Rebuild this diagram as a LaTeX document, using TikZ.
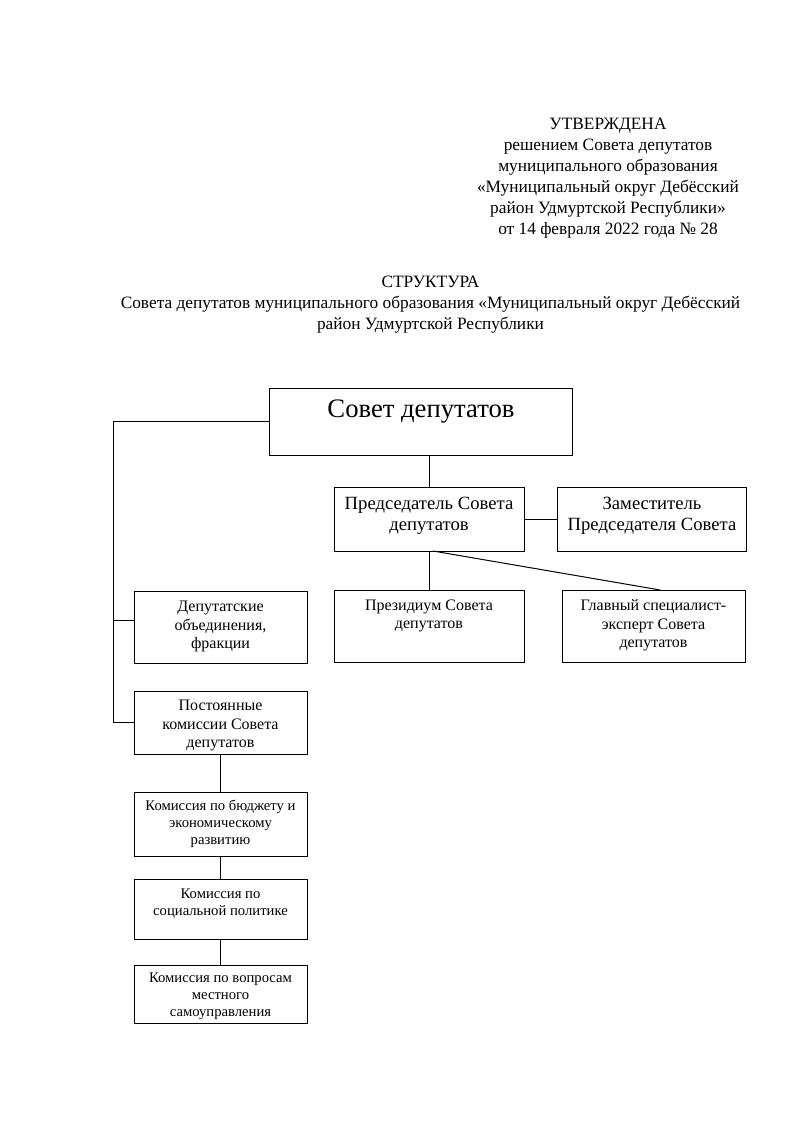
\documentclass[tikz,border=0pt]{standalone}
\usepackage{fontspec}
\setmainfont{Liberation Serif}
\usetikzlibrary{positioning,calc}

\begin{document}
\begin{tikzpicture}[x=0.75pt, y=-0.75pt,
    box/.style={draw, line width=0.75pt, inner sep=0pt, outer sep=0pt},
    boxsize/.style 2 args={minimum width=#1*0.75pt, minimum height=#2*0.75pt},
    bigtext/.style={align=center, inner sep=0pt, font=\fontsize{20}{23}\selectfont},
    headtext/.style={align=center, inner sep=0pt, font=\fontsize{13}{15.75}\selectfont},
    midtext/.style={align=center, inner sep=0pt, font=\fontsize{14}{15.75}\selectfont},
    smalltext/.style={align=center, inner sep=0pt, font=\fontsize{12}{14}\selectfont},
    comtext/.style={align=center, inner sep=0pt, font=\fontsize{11}{12.75}\selectfont},
    link/.style={line width=0.75pt}]
    \useasboundingbox (0,0) rectangle (794,1124);

    % Header
    \node[headtext] (approved) at (608,178.5) {УТВЕРЖДЕНА\\решением Совета депутатов\\муниципального образования\\«Муниципальный округ Дебёсский\\район Удмуртской Республики»\\от 14 февраля 2022 года № 28};
    \node[headtext] (title) at (430.5,305) {СТРУКТУРА\\Совета депутатов муниципального образования «Муниципальный округ Дебёсский\\район Удмуртской Республики};

    % Boxes
    \node[box, boxsize={303}{67}] (sovet) at (420.5,421.5) {};
    \node[box, boxsize={190}{64}] (pred) at (429,519) {};
    \node[box, boxsize={189.5}{64}] (zam) at (652,519) {};
    \node[box, boxsize={190}{72}] (prez) at (429,626) {};
    \node[box, boxsize={183}{72}] (glav) at (653.5,626) {};
    \node[box, boxsize={173}{72}] (dep) at (220.5,627) {};
    \node[box, boxsize={173}{63}] (post) at (220.5,722.5) {};
    \node[box, boxsize={173}{64}] (kbud) at (220.5,824) {};
    \node[box, boxsize={173}{60}] (ksoc) at (220.5,909) {};
    \node[box, boxsize={173}{58}] (kmest) at (220.5,994) {};

    % Texts
    \node[bigtext] (sovet-t) at (421,412) {Совет депутатов};
    \node[midtext] (pred-t) at (429,516) {Председатель Совета\\депутатов};
    \node[midtext] (zam-t) at (652,516) {Заместитель\\Председателя Совета};
    \node[smalltext] (prez-t) at (429,616) {Президиум Совета\\депутатов};
    \node[smalltext] (glav-t) at (653.5,625.5) {Главный специалист-\\эксперт Совета\\депутатов};
    \node[smalltext] (dep-t) at (220.5,626.5) {Депутатские\\объединения,\\фракции};
    \node[smalltext] (post-t) at (220.5,725.5) {Постоянные\\комиссии Совета\\депутатов};
    \node[comtext] (kbud-t) at (220.5,823.5) {Комиссия по бюджету и\\экономическому\\развитию};
    \node[comtext] (ksoc-t) at (220.5,903.3) {Комиссия по\\социальной политике};
    \node[comtext] (kmest-t) at (220.5,996.5) {Комиссия по вопросам\\местного\\самоуправления};

    % Connectors
    \coordinate (spine) at (113,620);
    \draw[link] (sovet.west) -- (sovet.west -| spine) -- (spine |- post.west) -- (post.west);
    \draw[link] (spine) -- (spine -| dep.west);
    \draw[link] (sovet.south -| pred.north) -- (pred.north);
    \draw[link] (pred.east) -- (zam.west);
    \draw[link] (pred.south) -- (prez.north);
    \draw[link] ([xshift=3pt]pred.south) -- ([xshift=5pt]glav.north);
    \draw[link] (post.south) -- (kbud.north);
    \draw[link] (kbud.south) -- (ksoc.north);
    \draw[link] (ksoc.south) -- (kmest.north);
\end{tikzpicture}
\end{document}
